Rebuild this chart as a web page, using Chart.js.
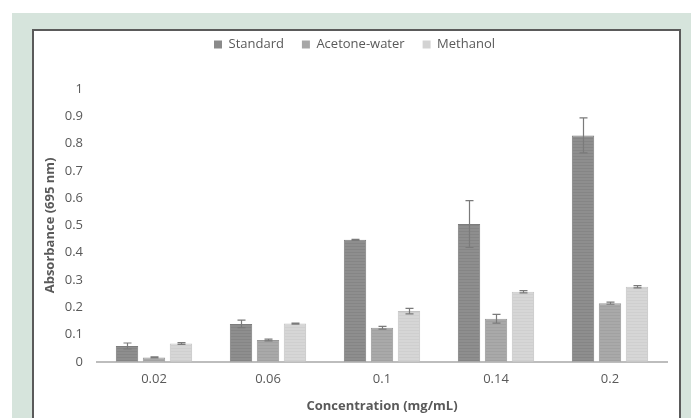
<!DOCTYPE html>
<html>
<head>
<meta charset="utf-8">
<script src="https://cdn.jsdelivr.net/npm/chart.js@4.4.1/dist/chart.umd.min.js"></script>
<style>
  html, body { margin: 0; padding: 0; background: #ffffff; width: 691px; height: 418px; overflow: hidden; }
  #frame { position: absolute; left: 12px; top: 13px; width: 679px; height: 405px; background: #d6e4dc; }
  #panel { position: absolute; left: 32px; top: 29px; width: 645px; height: 400px; background: #ffffff;
           border-left: 2px solid #5a5a5a; border-top: 2px solid #5a5a5a; border-right: 2px solid #5a5a5a; }
  #wrap { position: absolute; left: 34px; top: 31px; width: 645px; height: 387px; }
</style>
</head>
<body>
<div id="frame"></div>
<div id="panel"></div>
<div id="wrap"><canvas id="c" width="645" height="387"></canvas></div>
<script>
const categories = ["0.02", "0.06", "0.1", "0.14", "0.2"];
const seriesNames = ["Standard", "Acetone-water", "Methanol"];
const standard = [0.058, 0.139, 0.447, 0.505, 0.830];
const acetoneWater = [0.016, 0.080, 0.125, 0.158, 0.215];
const methanol = [0.067, 0.140, 0.186, 0.257, 0.275];
const standardErr = [0.011, 0.014, 0.002, 0.086, 0.064];
const acetoneWaterErr = [0.002, 0.003, 0.005, 0.016, 0.004];
const methanolErr = [0.003, 0.002, 0.010, 0.004, 0.004];
const yTicks = [0, 0.1, 0.2, 0.3, 0.4, 0.5, 0.6, 0.7, 0.8, 0.9, 1];

const FONT = "'Open Sans', sans-serif";

function stripePattern(base, line) {
  const p = document.createElement('canvas');
  p.width = 4; p.height = 3;
  const g = p.getContext('2d');
  g.fillStyle = base; g.fillRect(0, 0, 4, 3);
  g.fillStyle = line; g.fillRect(0, 2, 4, 1);
  return document.getElementById('c').getContext('2d').createPattern(p, 'repeat');
}

const colors = [
  { base: '#8e8e8e', line: '#858585', border: '#7d7d7d', legend: '#8a8a8a' },
  { base: '#a9a9a9', line: '#a1a1a1', border: '#989898', legend: '#a6a6a6' },
  { base: '#d6d6d6', line: '#cfcfcf', border: '#c4c4c4', legend: '#d3d3d3' }
];
const seriesValues = [standard, acetoneWater, methanol];
const seriesErrs = [standardErr, acetoneWaterErr, methanolErr];

const errorBars = {
  id: 'errorBars',
  afterDatasetsDraw(chart) {
    const ctx = chart.ctx;
    const y = chart.scales.y;
    ctx.save();
    ctx.strokeStyle = '#7a7a7a';
    ctx.lineWidth = 1.2;
    chart.data.datasets.forEach((ds, i) => {
      const meta = chart.getDatasetMeta(i);
      meta.data.forEach((bar, j) => {
        const v = ds.data[j];
        const e = seriesErrs[i][j];
        const yt = y.getPixelForValue(v + e);
        const yb = y.getPixelForValue(v - e);
        const x = Math.round(bar.x) + 0.5;
        ctx.beginPath();
        ctx.moveTo(x, yt); ctx.lineTo(x, yb);
        ctx.moveTo(x - 4, yt); ctx.lineTo(x + 4, yt);
        ctx.moveTo(x - 4, yb); ctx.lineTo(x + 4, yb);
        ctx.stroke();
      });
    });
    ctx.restore();
  }
};

// Give the legend extra room below it so the plot starts lower.
const legendSpace = {
  id: 'legendSpace',
  beforeUpdate(chart) {
    const l = chart.legend;
    if (l && !l._spacePatched) {
      const fit = l.fit;
      l.fit = function () { fit.call(this); this.height += 28; };
      l._spacePatched = true;
    }
  }
};

new Chart(document.getElementById('c'), {
  type: 'bar',
  data: {
    labels: categories,
    datasets: seriesNames.map((name, i) => ({
      label: name,
      data: seriesValues[i],
      backgroundColor: stripePattern(colors[i].base, colors[i].line),
      borderColor: colors[i].border,
      borderWidth: 1,
      categoryPercentage: 0.71,
      barPercentage: 0.83
    }))
  },
  options: {
    responsive: false,
    animation: false,
    layout: { padding: { left: 8, right: 12, top: -11, bottom: 4 } },
    plugins: {
      legend: {
        position: 'top',
        labels: {
          font: { family: FONT, size: 13 },
          color: '#595959',
          boxWidth: 8, boxHeight: 8,
          padding: 18,
          generateLabels(chart) {
            return chart.data.datasets.map((ds, i) => ({
              text: ds.label, fillStyle: colors[i].legend, strokeStyle: colors[i].legend,
              lineWidth: 0, datasetIndex: i, fontColor: '#595959'
            }));
          }
        }
      },
      tooltip: { enabled: false }
    },
    scales: {
      x: {
        grid: { display: false, drawTicks: false },
        border: { display: true, color: '#bdbdbd', width: 2 },
        ticks: { font: { family: FONT, size: 13 }, color: '#595959', padding: 10 },
        title: { display: true, text: 'Concentration (mg/mL)', font: { family: FONT, size: 13, weight: 'bold' }, color: '#595959', padding: { top: 1, bottom: 0 } }
      },
      y: {
        min: 0, max: 1,
        afterBuildTicks(scale) { scale.ticks = yTicks.map(v => ({ value: v })); },
        afterFit(scale) { scale.width = 55; },
        grid: { display: false, drawTicks: false },
        border: { display: false },
        ticks: {
          font: { family: FONT, size: 13 }, color: '#595959', padding: 14,
          callback: v => String(Math.round(v * 10) / 10)
        },
        title: { display: true, text: 'Absorbance (695 nm)', font: { family: FONT, size: 13, weight: 'bold' }, color: '#595959', padding: { top: 0, bottom: 4 } }
      }
    }
  },
  plugins: [errorBars, legendSpace]
});
</script>
</body>
</html>
